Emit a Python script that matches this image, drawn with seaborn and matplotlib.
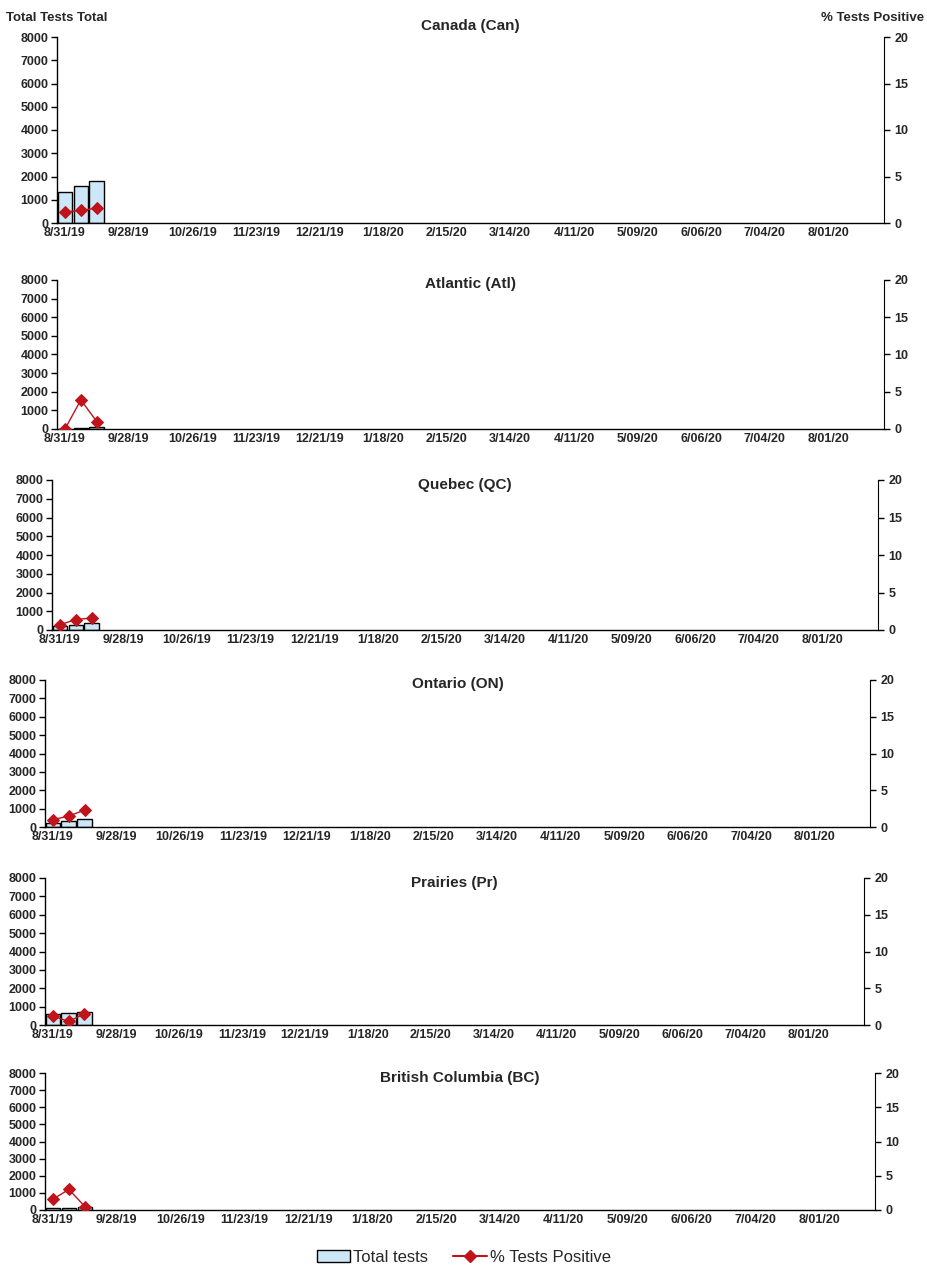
import matplotlib
matplotlib.use("Agg")
import matplotlib.pyplot as plt
import seaborn as sns
import numpy as np
import pandas as pd
from matplotlib.lines import Line2D
from matplotlib.patches import Patch

sns.set_style("white")
plt.rcParams['font.family'] = ['Liberation Sans', 'DejaVu Sans']

weeks = pd.date_range("2019-08-31", periods=52, freq="7D")
week_labels = [f"{d.month}/{d.day:02d}/{d.strftime('%y')}" if d.year == 2020 and d.month in (5, 6, 7, 8) else f"{d.month}/{d.day}/{d.strftime('%y')}" for d in weeks]

regions = ["Canada (Can)", "Atlantic (Atl)", "Quebec (QC)", "Ontario (ON)", "Prairies (Pr)", "British Columbia (BC)"]
tests_can = [1350, 1600, 1820]
tests_atl = [20, 50, 100]
tests_qc = [200, 250, 350]
tests_on = [200, 300, 450]
tests_pr = [620, 670, 720]
tests_bc = [100, 130, 150]
pct_can = [1.2, 1.35, 1.6]
pct_atl = [0.0, 3.9, 1.0]
pct_qc = [0.7, 1.4, 1.6]
pct_on = [1.0, 1.5, 2.3]
pct_pr = [1.2, 0.5, 1.5]
pct_bc = [1.6, 3.0, 0.5]
tests_all = [tests_can, tests_atl, tests_qc, tests_on, tests_pr, tests_bc]
pct_all = [pct_can, pct_atl, pct_qc, pct_on, pct_pr, pct_bc]

W, H = 928, 1281
fig = plt.figure(figsize=(W/100, H/100), dpi=100)
boxes = [(57, 37, 884, 223), (57, 280, 884, 429), (52, 480, 878, 630),
         (45, 680, 870, 827), (45, 878, 864, 1025), (45, 1073, 875, 1210)]
title_y = [26, 284, 485, 684, 883, 1078]
bar_col = "#cce8f8"
line_col = "#c0141c"

for i, (reg, t, p) in enumerate(zip(regions, tests_all, pct_all)):
    x0, y0, x1, y1 = boxes[i]
    ax = fig.add_axes([x0/W, 1 - y1/H, (x1-x0)/W, (y1-y0)/H])
    vals = list(t) + [np.nan]*(52-len(t))
    df = pd.DataFrame({"week": week_labels, "tests": vals})
    sns.barplot(data=df, x="week", y="tests", order=week_labels, color=bar_col,
                edgecolor="black", linewidth=1, width=0.92, saturation=1, ax=ax)
    ax.set_xlim(-0.5, 51.5)
    ax.set_ylim(0, 8000)
    ax.set_yticks(range(0, 8001, 1000))
    ax.set_xticks(np.arange(52) + 0.5, minor=True)
    ax.set_xticks(range(0, 52, 4))
    ax.set_xticklabels([week_labels[k] for k in range(0, 52, 4)])
    ax.tick_params(axis="x", which="both", direction="in", length=5, width=1, color="black")
    ax.tick_params(axis="x", which="major", length=0, pad=3)
    ax.tick_params(axis="y", direction="out", length=4, width=1, color="black", left=True, pad=2)
    for lab in ax.get_xticklabels() + ax.get_yticklabels():
        lab.set_fontsize(9); lab.set_fontweight("bold")
    ax.set_xlabel(""); ax.set_ylabel("")
    for s in ["top", "right"]:
        ax.spines[s].set_visible(False)
    for s in ["left", "bottom"]:
        ax.spines[s].set_color("black"); ax.spines[s].set_linewidth(1)
    fig.text((x0 + x1) / 2 / W, 1 - title_y[i] / H, reg, fontsize=11, fontweight="bold",
             ha="center", va="center")
    ax2 = ax.twinx()
    dfp = pd.DataFrame({"x": np.arange(len(p)), "pct": p})
    sns.lineplot(data=dfp, x="x", y="pct", color=line_col, marker="D", markersize=6,
                 linewidth=1, markeredgecolor=line_col, ax=ax2)
    ax2.set_ylim(0, 20)
    ax2.set_yticks(range(0, 21, 5))
    ax2.set_ylabel("")
    ax2.tick_params(axis="y", direction="out", length=4, width=1, color="black", right=True)
    for lab in ax2.get_yticklabels():
        lab.set_fontsize(9); lab.set_fontweight("bold")
    for s in ["top", "left", "bottom"]:
        ax2.spines[s].set_visible(False)
    ax2.spines["right"].set_color("black")
    if i == 0:
        fig.text(6/W, 1 - 18/H, "Total Tests Total", fontsize=9.5, fontweight="bold", va="center")
        fig.text(924/W, 1 - 18/H, "% Tests Positive", fontsize=9.5, fontweight="bold", va="center", ha="right")

handles = [Patch(facecolor=bar_col, edgecolor="black", label="Total tests"),
           Line2D([0], [0], color=line_col, marker="D", markersize=6, label="% Tests Positive")]
fig.legend(handles=handles, loc="center", bbox_to_anchor=(0.5, 1 - 1257/H), ncol=2,
           frameon=False, fontsize=12, handlelength=2, columnspacing=1.5, handletextpad=0.2)
fig.savefig("out.png", dpi=100, facecolor="white")
